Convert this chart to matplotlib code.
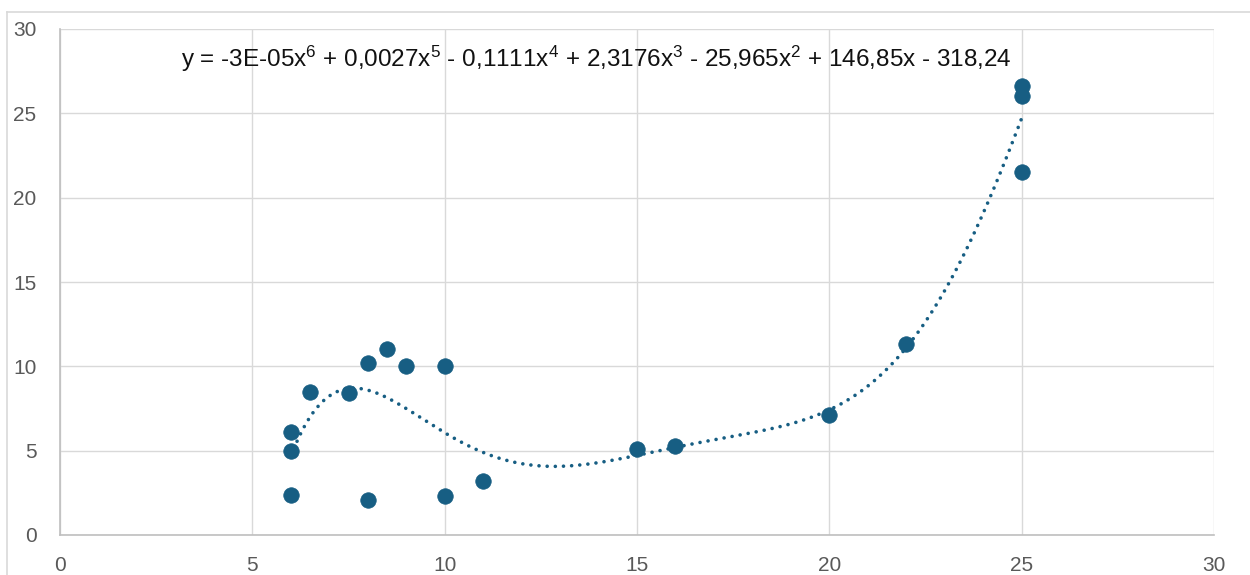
import numpy as np
import matplotlib
matplotlib.use("Agg")
import matplotlib.pyplot as plt
from matplotlib.lines import Line2D

# Data
x_vals = [6, 6, 6, 6.5, 7.5, 8, 8, 8.5, 9, 10, 10, 11, 15, 16, 20, 22, 25, 25, 25]
y_vals = [2.4, 5.0, 6.1, 8.5, 8.4, 10.2, 2.1, 11.0, 10.0, 10.0, 2.3, 3.2, 5.1, 5.3, 7.1, 11.3, 26.6, 26.0, 21.5]
x_ticks = [0, 5, 10, 15, 20, 25, 30]
y_ticks = [0, 5, 10, 15, 20, 25, 30]
equation = ("y = -3E-05x$^{6}$ + 0,0027x$^{5}$ - 0,1111x$^{4}$ + 2,3176x$^{3}$"
            " - 25,965x$^{2}$ + 146,85x - 318,24")

FONT = 'Liberation Sans'
plt.rcParams['font.family'] = [FONT, 'DejaVu Sans']
plt.rcParams['mathtext.fontset'] = 'custom'
plt.rcParams['mathtext.rm'] = FONT
plt.rcParams['mathtext.it'] = FONT
plt.rcParams['mathtext.default'] = 'regular'

color = '#175e83'

fig = plt.figure(figsize=(12.5, 5.75), dpi=100)
ax = fig.add_axes([60/1250, 40/575, (1214-60)/1250, (535-29)/575])

# trendline: 6th order polynomial fit
coef = np.polyfit(x_vals, y_vals, 6)
xs = np.linspace(min(x_vals), max(x_vals), 400)
ax.plot(xs, np.polyval(coef, xs), color=color, lw=2.6,
        linestyle=(0, (0.01, 2.25)), dash_capstyle='round', zorder=2)

ax.scatter(x_vals, y_vals, s=125, color=color, edgecolors=color, linewidths=0.5, zorder=3)

ax.set_xlim(0, 30)
ax.set_ylim(0, 30)
ax.set_xticks(x_ticks)
ax.set_yticks(y_ticks)
ax.grid(True, color='#d9d9d9', lw=1.0)
ax.set_axisbelow(True)
for s in ['top', 'right']:
    ax.spines[s].set_visible(False)
for s in ['left', 'bottom']:
    ax.spines[s].set_color('#bfbfbf')
    ax.spines[s].set_linewidth(1.2)
ax.tick_params(length=0, labelsize=15, labelcolor='#595959')
ax.tick_params(axis='y', pad=17)
ax.tick_params(axis='x', pad=15)

ax.text(3.15, 27.74, equation, fontsize=17.5, color='#111111', va='baseline', ha='left')

# outer chart border (partially visible)
fig.add_artist(Line2D([7/1250, 7/1250], [0, 1 - 12/575], transform=fig.transFigure,
                      color='#d9d9d9', lw=1.2))
fig.add_artist(Line2D([7/1250, 1], [1 - 12/575, 1 - 12/575], transform=fig.transFigure,
                      color='#d9d9d9', lw=1.2))

fig.savefig('out.png', dpi=100, facecolor='white')
